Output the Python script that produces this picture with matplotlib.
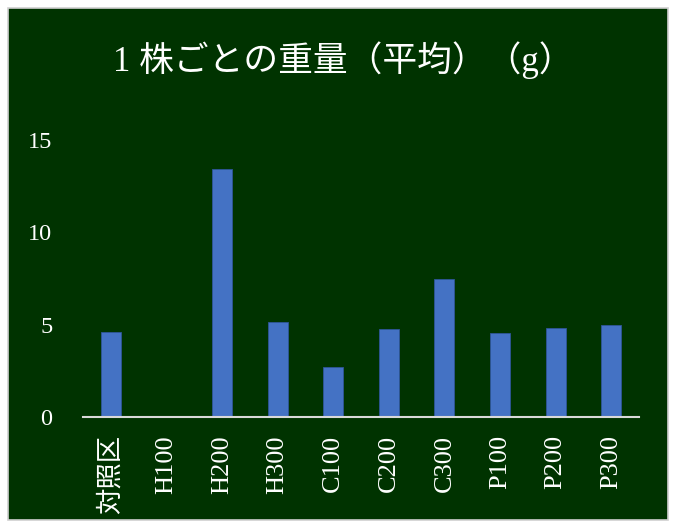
import matplotlib
matplotlib.use("Agg")
import matplotlib.pyplot as plt
from matplotlib.patches import Rectangle

plt.rcParams['font.family'] = ['Liberation Serif', 'Noto Sans CJK JP', 'DejaVu Sans']

categories = ['対照区', 'H100', 'H200', 'H300', 'C100', 'C200', 'C300', 'P100', 'P200', 'P300']
weights = [4.59, 0.0, 13.44, 5.13, 2.72, 4.75, 7.47, 4.55, 4.80, 4.98]
y_ticks = [0, 5, 10, 15]
title = '1 株ごとの重量（平均）（g）'

W, H = 675, 527
fig = plt.figure(figsize=(W / 100, H / 100), dpi=100, facecolor='white')

# dark green chart panel with a light border
panel = Rectangle((8 / W, 1 - 520 / H), 660 / W, 512 / H, transform=fig.transFigure,
                  facecolor='#003300', edgecolor='#d0d0d0', linewidth=1.2, zorder=-5)
fig.patches.append(panel)

ax = fig.add_axes([83 / W, (H - 417) / H, 556 / W, 277 / H])
ax.set_zorder(2)
ax.set_facecolor('none')

x = range(len(categories))
ax.bar(x, weights, width=0.36, color='#4472C4', edgecolor='#2f5597', linewidth=0.6, zorder=2)

ax.set_xlim(-0.5, len(categories) - 0.5)
ax.set_ylim(0, 15)
ax.set_yticks(y_ticks)
ax.set_yticklabels([str(v) for v in y_ticks])
ax.set_xticks(list(x))
ax.set_xticklabels(categories, rotation=90, va='top', ha='center')

ax.tick_params(axis='y', length=0, pad=22, labelsize=17.5, labelcolor='white')
ax.tick_params(axis='x', length=0, pad=13, labelsize=19, labelcolor='white')

for side in ['top', 'right', 'left']:
    ax.spines[side].set_visible(False)
ax.spines['bottom'].set_color('#d9d9d9')
ax.spines['bottom'].set_linewidth(1.5)
ax.spines['bottom'].set_zorder(3)

fig.text(343 / W, 1 - 60 / H, title, ha='center', va='center', color='white', fontsize=25)

fig.savefig('out.png', dpi=100, facecolor='white')
